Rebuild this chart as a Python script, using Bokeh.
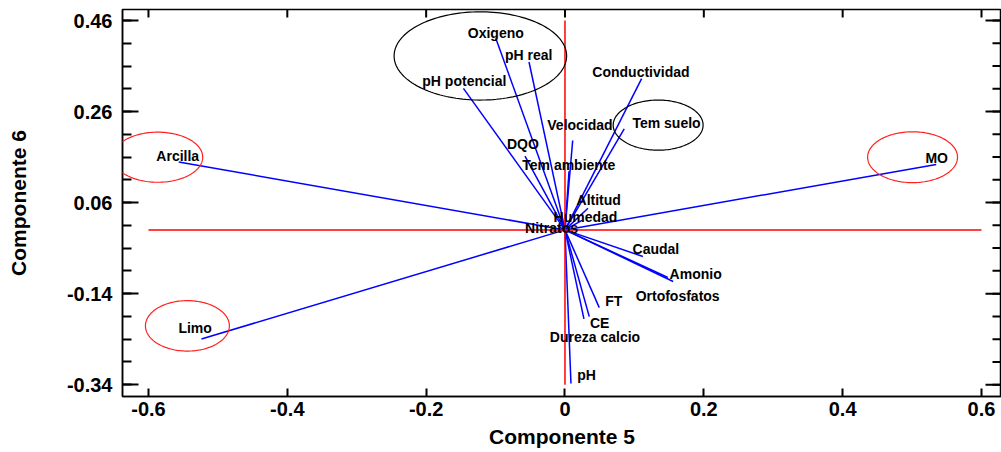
import numpy as np
from bokeh.plotting import figure
from bokeh.models import FixedTicker, PolyAnnotation, Range1d, ColumnDataSource
from bokeh.core.properties import value
from bokeh.embed import file_html
from bokeh.resources import INLINE

# ---- data ----
names = ["Oxigeno", "pH real", "pH potencial", "Conductividad", "Tem suelo",
         "Velocidad", "DQO", "Tem ambiente", "Altitud", "Humedad", "Nitratos",
         "Arcilla", "MO", "Caudal", "Amonio", "Ortofosfatos", "FT", "CE",
         "Dureza calcio", "pH", "Limo"]
comp5 = [-0.0997, -0.0518, -0.1463, 0.1104, 0.0853,
         0.0111, -0.0576, 0.0058, 0.0331, 0.0245, -0.0072,
         -0.5564, 0.5348, 0.1122, 0.1558, 0.1482, 0.0494, 0.0350,
         0.0273, 0.0086, -0.5237]
comp6 = [0.4211, 0.3689, 0.3110, 0.3322, 0.2220,
         0.1965, 0.1619, 0.1289, 0.0474, 0.0209, 0.0055,
         0.1493, 0.1436, -0.0584, -0.1134, -0.1046, -0.1707, -0.1905,
         -0.1956, -0.3374, -0.2396]
label_x = [-0.0997, -0.0522, -0.1450, 0.1094, 0.1463,
           0.0216, -0.0607, 0.0055, 0.0486, 0.0295, -0.0194,
           -0.5578, 0.5355, 0.1309, 0.1882, 0.1623, 0.0702, 0.0499,
           0.0432, 0.0312, -0.5328]
label_y = [0.4335, 0.3837, 0.3264, 0.3469, 0.2339,
           0.2295, 0.1890, 0.1436, 0.0650, 0.0291, 0.0040,
           0.1634, 0.1581, -0.0414, -0.0958, -0.1443, -0.1553, -0.2037,
           -0.2346, -0.3189, -0.2148]

x_ticks = [-0.6, -0.4, -0.2, 0, 0.2, 0.4, 0.6]
x_tick_labels = ["-0.6", "-0.4", "-0.2", "0", "0.2", "0.4", "0.6"]
y_ticks = [-0.34, -0.14, 0.06, 0.26, 0.46]
y_tick_labels = ["-0.34", "-0.14", "0.06", "0.26", "0.46"]

# highlight ellipses (center x, center y, width, height in data units)
ell_cx = [-0.1219, 0.1342, -0.5866, 0.5007, -0.5439]
ell_cy = [0.3822, 0.2302, 0.1597, 0.1597, -0.2108]
ell_w = [0.2485, 0.1295, 0.1295, 0.1295, 0.1209]
ell_h = [0.1938, 0.1101, 0.1101, 0.1117, 0.1108]
ell_color = ["black", "black", "#ff2020", "#ff2020", "#ff2020"]

# ---- figure ----
FONT = "Liberation Sans"
X0, X1 = -0.6374, 0.6288
Y0, Y1 = -0.3660, 0.4842
p = figure(width=1001, height=450,
           x_range=Range1d(X0, X1), y_range=Range1d(Y0, Y1),
           output_backend="svg", toolbar_location=None,
           min_border_left=122, min_border_right=0, min_border_top=9, min_border_bottom=0)
p.grid.visible = False
p.outline_line_color = "black"
p.outline_line_width = 1.5
p.background_fill_color = "white"
p.border_fill_color = "white"

src = ColumnDataSource(dict(names=names, comp5=comp5, comp6=comp6, lx=label_x, ly=label_y))

# loading vectors
p.segment(x0=0, y0=0, x1="comp5", y1="comp6", source=src, line_color="#0000ff", line_width=1.5)

# red reference lines
p.segment(x0=[x_ticks[0], 0], y0=[0, y_ticks[0]], x1=[x_ticks[-1], 0], y1=[0, y_ticks[-1]],
          line_color="#ff0000", line_width=1.5)

# ellipses
t = np.linspace(0, 2 * np.pi, 160)
for cx, cy, w, h, c in zip(ell_cx, ell_cy, ell_w, ell_h, ell_color):
    xs = list(cx + w / 2 * np.cos(t))
    ys = list(cy + h / 2 * np.sin(t))
    p.add_layout(PolyAnnotation(xs=xs, ys=ys, fill_color=None, fill_alpha=0,
                                line_color=c, line_alpha=1.0, line_width=1.2))

# labels
p.text(x="lx", y="ly", text="names", source=src, text_font=value(FONT),
       text_font_style="bold", text_font_size="14px", text_align="center",
       text_baseline="middle", text_color="black")

# mirrored ticks on the top and right frame edges (half of each dash lies inside the frame)
y_minor = [v for v in np.round(np.arange(y_ticks[0], y_ticks[-1] + 0.001, 0.05), 4)]
p.dash(x=x_ticks, y=Y1, size=16, angle=np.pi / 2, line_color="black", line_width=2)
p.dash(x=X1, y=y_ticks, size=32, line_color="black", line_width=2)
p.dash(x=X1, y=y_minor, size=18, line_color="black", line_width=2)

# ---- axes ----
def style(ax):
    ax.axis_line_color = "black"
    ax.axis_line_width = 1.5
    ax.major_tick_out = 0
    ax.minor_tick_out = 0
    ax.major_tick_line_width = 2
    ax.minor_tick_line_width = 2
    ax.major_tick_line_color = "black"
    ax.minor_tick_line_color = "black"
    ax.major_label_text_font = FONT
    ax.major_label_text_font_style = "bold"
    ax.major_label_text_font_size = "20px"
    ax.major_label_text_color = "black"
    ax.axis_label_text_font = FONT
    ax.axis_label_text_font_style = "bold"
    ax.axis_label_text_font_size = "21px"
    ax.axis_label_text_color = "black"

xa = p.below[0]
xa.ticker = FixedTicker(ticks=x_ticks, minor_ticks=[])
xa.major_label_overrides = dict(zip(x_ticks, x_tick_labels))
style(xa)
xa.major_tick_in = 8
xa.minor_tick_in = 0
xa.major_label_standoff = 5
xa.axis_label = "Componente 5"
xa.axis_label_standoff = 6

ya = p.left[0]
ya.ticker = FixedTicker(ticks=y_ticks, minor_ticks=y_minor)
ya.major_label_overrides = dict(zip(y_ticks, y_tick_labels))
style(ya)
ya.major_tick_in = 16
ya.minor_tick_in = 9
ya.major_label_standoff = 10
ya.axis_label = "Componente 6"
ya.axis_label_standoff = 34

open("out.html", "w").write(file_html(p, INLINE))
